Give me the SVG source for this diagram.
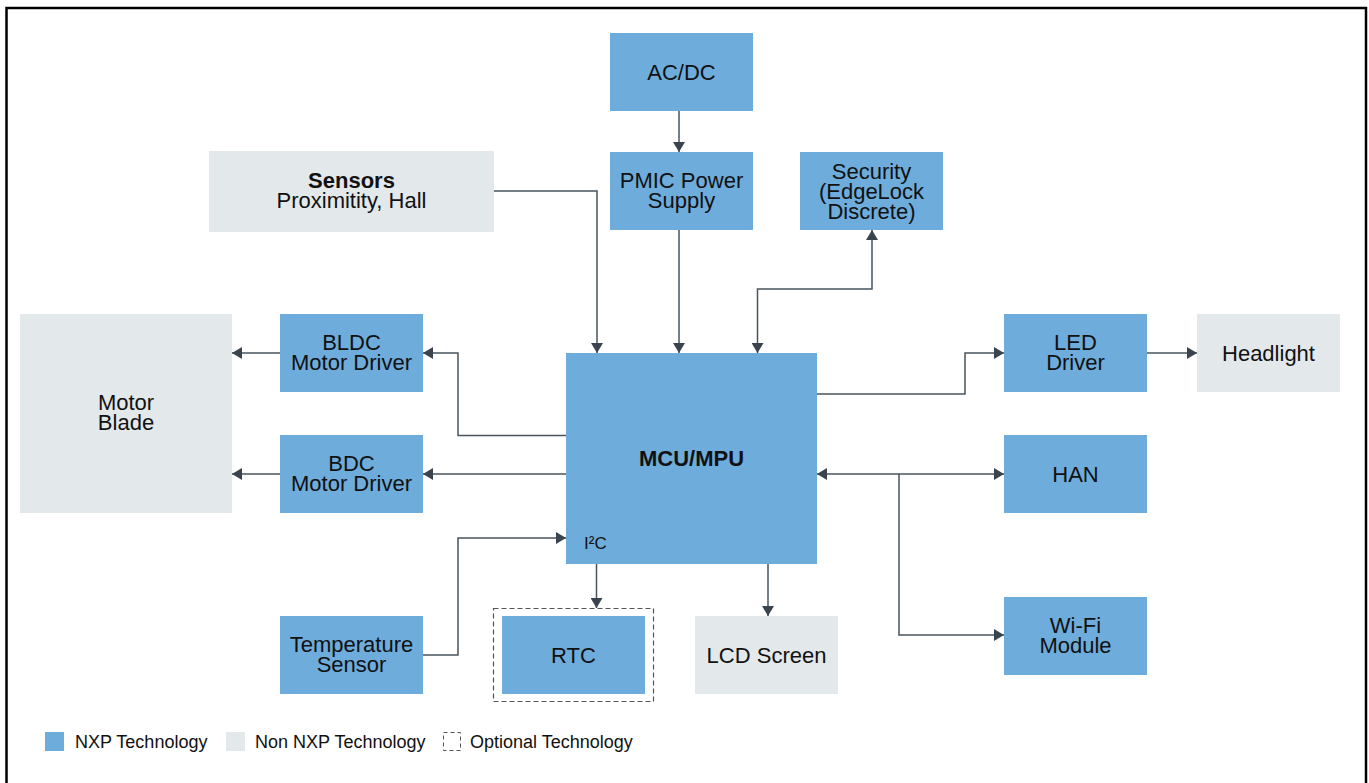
<svg xmlns="http://www.w3.org/2000/svg" width="1369" height="783" viewBox="0 0 1369 783">
<style>
.nxp{fill:#6eacdc}
.non{fill:#e3e8eb}
.t{font-family:"Liberation Sans",Arial,sans-serif;font-size:22px;fill:#111;text-anchor:middle}
.b{font-weight:bold}
.lg{font-family:"Liberation Sans",Arial,sans-serif;font-size:18px;fill:#111}
.c{fill:none;stroke:#4a545e;stroke-width:1.5}
</style>
<defs>
<marker id="ah" viewBox="0 0 10 12" refX="10" refY="6" markerWidth="10" markerHeight="12" markerUnits="userSpaceOnUse" orient="auto-start-reverse">
<path d="M0,0 L10,6 L0,12 Z" fill="#3a444e"/>
</marker>
</defs>
<rect x="0" y="0" width="1369" height="783" fill="#fff"/>
<path d="M6.5,790 V8 H1366 V790" fill="none" stroke="#000" stroke-width="2.5"/>

<g id="acdc"><rect class="nxp" x="610" y="33" width="143" height="78"/><text class="t" x="681.5" y="79.5">AC/DC</text></g>
<g id="pmic"><rect class="nxp" x="610" y="152" width="143" height="78"/><text class="t" x="681.5" y="188">PMIC Power</text><text class="t" x="681.5" y="208">Supply</text></g>
<g id="security"><rect class="nxp" x="800" y="152" width="143" height="78"/><text class="t" x="871.5" y="179">Security</text><text class="t" x="871.5" y="199">(EdgeLock</text><text class="t" x="871.5" y="219">Discrete)</text></g>
<g id="sensors"><rect class="non" x="209" y="151" width="285" height="81"/><text class="t b" x="351.5" y="188">Sensors</text><text class="t" x="351.5" y="208">Proximitity, Hall</text></g>
<g id="mcu"><rect class="nxp" x="566" y="353" width="251" height="211"/><text class="t b" x="691.5" y="466">MCU/MPU</text><text x="584" y="549" style="font-family:'Liberation Sans',Arial,sans-serif;font-size:17px;fill:#111">I²C</text></g>
<g id="motor"><rect class="non" x="20" y="314" width="212" height="199"/><text class="t" x="126" y="410">Motor</text><text class="t" x="126" y="430">Blade</text></g>
<g id="bldc"><rect class="nxp" x="280" y="314" width="143" height="78"/><text class="t" x="351.5" y="350">BLDC</text><text class="t" x="351.5" y="370">Motor Driver</text></g>
<g id="bdc"><rect class="nxp" x="280" y="435" width="143" height="78"/><text class="t" x="351.5" y="471">BDC</text><text class="t" x="351.5" y="491">Motor Driver</text></g>
<g id="led"><rect class="nxp" x="1004" y="314" width="143" height="78"/><text class="t" x="1075.5" y="350">LED</text><text class="t" x="1075.5" y="370">Driver</text></g>
<g id="headlight"><rect class="non" x="1197" y="314" width="143" height="78"/><text class="t" x="1268.5" y="361">Headlight</text></g>
<g id="han"><rect class="nxp" x="1004" y="435" width="143" height="78"/><text class="t" x="1075.5" y="482">HAN</text></g>
<g id="wifi"><rect class="nxp" x="1004" y="597" width="143" height="78"/><text class="t" x="1075.5" y="633">Wi-Fi</text><text class="t" x="1075.5" y="653">Module</text></g>
<g id="temp"><rect class="nxp" x="280" y="616" width="143" height="78"/><text class="t" x="351.5" y="652">Temperature</text><text class="t" x="351.5" y="672">Sensor</text></g>
<g id="rtc"><rect x="493.5" y="608.5" width="160" height="93" fill="none" stroke="#555" stroke-width="1.2" stroke-dasharray="5,3"/><rect class="nxp" x="502" y="616" width="143" height="78"/><text class="t" x="573.5" y="663">RTC</text></g>
<g id="lcd"><rect class="non" x="695" y="616" width="143" height="78"/><text class="t" x="766.5" y="663">LCD Screen</text></g>

<g id="connectors">
<path class="c" d="M679,111 V152" marker-end="url(#ah)"/>
<path class="c" d="M679,230 V353" marker-end="url(#ah)"/>
<path class="c" d="M494,191 H597 V353" marker-end="url(#ah)"/>
<path class="c" d="M872,230 V289 H757.5 V353" marker-start="url(#ah)" marker-end="url(#ah)"/>
<path class="c" d="M566,435.5 H458 V353 H423" marker-end="url(#ah)"/>
<path class="c" d="M566,474 H423" marker-end="url(#ah)"/>
<path class="c" d="M280,353 H232" marker-end="url(#ah)"/>
<path class="c" d="M280,474 H232" marker-end="url(#ah)"/>
<path class="c" d="M817,394 H965 V353 H1004" marker-end="url(#ah)"/>
<path class="c" d="M1147,353 H1197" marker-end="url(#ah)"/>
<path class="c" d="M817,474 H1004" marker-start="url(#ah)" marker-end="url(#ah)"/>
<path class="c" d="M899,474 V635 H1004" marker-end="url(#ah)"/>
<path class="c" d="M423,655 H458 V538 H566" marker-end="url(#ah)"/>
<path class="c" d="M596.5,564 V608" marker-end="url(#ah)"/>
<path class="c" d="M768,564 V616" marker-end="url(#ah)"/>
</g>

<g id="legend">
<rect class="nxp" x="45" y="732" width="19" height="19"/>
<text class="lg" x="75" y="748">NXP Technology</text>
<rect class="non" x="226" y="732" width="19" height="19"/>
<text class="lg" x="255" y="748">Non NXP Technology</text>
<rect x="443.5" y="732.5" width="17" height="18" fill="none" stroke="#555" stroke-width="1" stroke-dasharray="4,3"/>
<text class="lg" x="470" y="748">Optional Technology</text>
</g>
</svg>
